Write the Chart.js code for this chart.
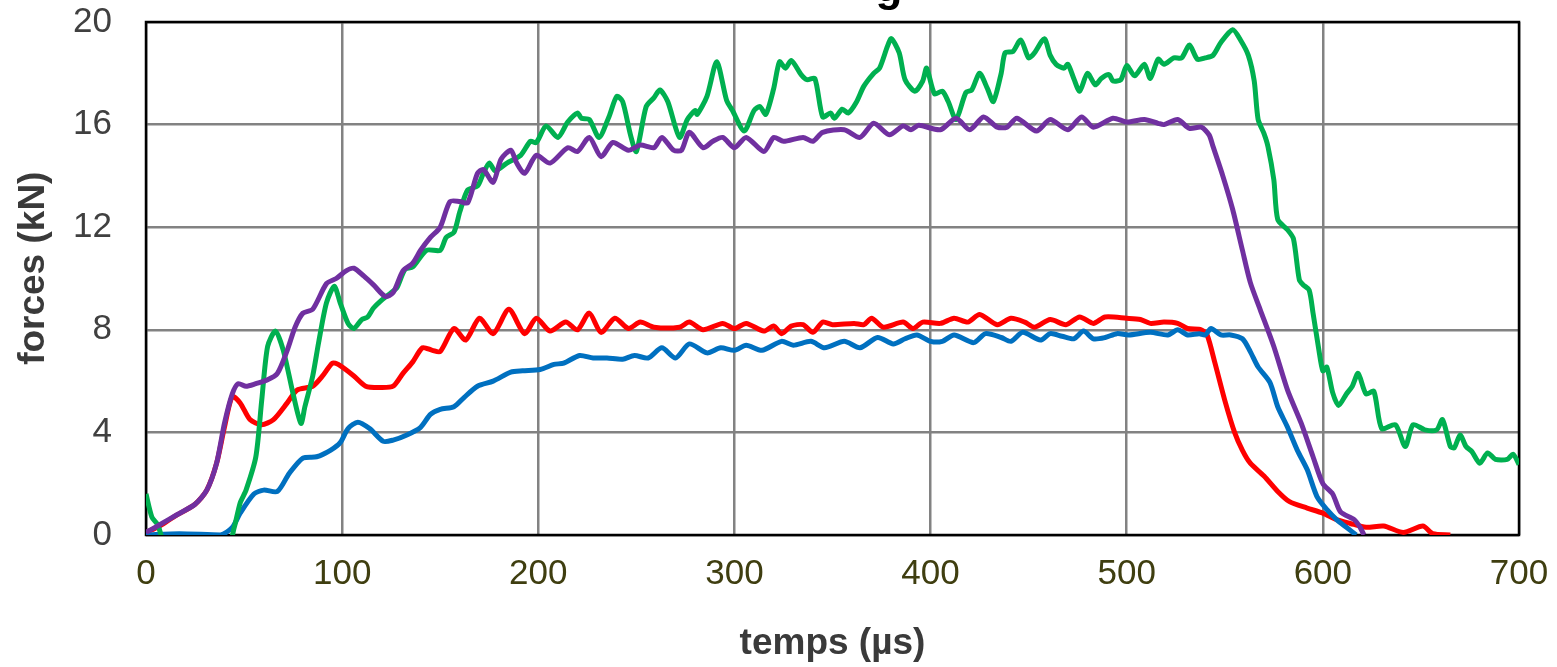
<!DOCTYPE html>
<html>
<head>
<meta charset="utf-8">
<script src="https://cdn.jsdelivr.net/npm/chart.js@4"></script>
<style>
  body { margin: 0; background: #fff; }
</style>
</head>
<body>
<canvas id="myChart" width="1557" height="667"></canvas>
<script>
// temps (µs) / forces (kN), one pair of arrays per curve
var redT = [0, 7, 14, 25, 31, 36, 40, 44, 48, 53, 59, 65, 72, 77, 85, 90, 95, 98, 106, 112, 119, 126, 131, 136, 141, 146, 150, 157, 163, 170, 177, 185, 193, 199, 206, 214, 220, 226, 232, 239, 246, 252, 259, 272, 277, 284, 294, 300, 306, 315, 320, 324, 329, 335, 340, 345, 350, 361, 366, 370, 376, 386, 391, 396, 405, 412, 419, 425, 434, 441, 448, 453, 461, 469, 476, 483, 489, 500, 507, 512, 519, 526, 531, 538, 541, 545, 550, 555, 559, 563, 570, 577, 583, 592, 600, 607, 614, 622, 631, 641, 651, 656, 665];
var redF = [0.1, 0.35, 0.7, 1.2, 1.75, 2.8, 4.2, 5.4, 5.15, 4.5, 4.3, 4.5, 5.15, 5.65, 5.8, 6.2, 6.7, 6.65, 6.2, 5.8, 5.75, 5.8, 6.3, 6.75, 7.3, 7.2, 7.15, 8.05, 7.6, 8.45, 7.85, 8.8, 7.85, 8.45, 7.95, 8.3, 8.0, 8.65, 7.9, 8.45, 8.05, 8.3, 8.1, 8.1, 8.3, 8.0, 8.25, 8.05, 8.25, 7.95, 8.15, 7.85, 8.15, 8.2, 7.9, 8.3, 8.2, 8.25, 8.2, 8.45, 8.1, 8.3, 8.05, 8.3, 8.25, 8.45, 8.3, 8.6, 8.2, 8.45, 8.3, 8.1, 8.4, 8.2, 8.5, 8.25, 8.5, 8.45, 8.4, 8.25, 8.3, 8.25, 8.05, 8.0, 7.8, 6.7, 5.25, 4.0, 3.3, 2.8, 2.3, 1.7, 1.3, 1.05, 0.85, 0.6, 0.45, 0.3, 0.35, 0.1, 0.35, 0.05, 0];

var blueT = [0, 17, 38, 44, 48, 55, 60, 67, 73, 80, 87, 94, 99, 103, 108, 114, 121, 126, 133, 140, 145, 150, 157, 162, 169, 177, 186, 192, 201, 208, 213, 221, 228, 235, 243, 249, 256, 263, 270, 277, 286, 293, 300, 306, 314, 324, 330, 339, 346, 356, 364, 373, 381, 387, 393, 400, 406, 412, 422, 428, 436, 441, 447, 456, 461, 467, 473, 478, 483, 489, 495, 501, 512, 521, 526, 531, 537, 540, 543, 548, 553, 559, 563, 567, 573, 577, 582, 587, 592, 597, 602, 607, 612, 617];
var blueF = [0, 0.05, 0, 0.3, 0.85, 1.6, 1.75, 1.7, 2.4, 3.0, 3.05, 3.3, 3.6, 4.15, 4.4, 4.15, 3.65, 3.7, 3.9, 4.2, 4.7, 4.9, 5.0, 5.35, 5.8, 6.0, 6.35, 6.4, 6.45, 6.65, 6.7, 7.0, 6.9, 6.9, 6.85, 7.0, 6.9, 7.3, 6.9, 7.45, 7.1, 7.3, 7.2, 7.4, 7.2, 7.55, 7.4, 7.55, 7.3, 7.55, 7.3, 7.7, 7.45, 7.65, 7.8, 7.55, 7.55, 7.8, 7.5, 7.85, 7.7, 7.55, 7.9, 7.6, 7.85, 7.75, 7.65, 7.95, 7.65, 7.7, 7.85, 7.8, 7.9, 7.8, 8.0, 7.8, 7.85, 7.8, 8.05, 7.8, 7.8, 7.65, 7.15, 6.55, 5.95, 5.0, 4.2, 3.3, 2.55, 1.5, 1.0, 0.6, 0.3, 0];

var purpleT = [0, 7, 16, 25, 31, 36, 40, 44, 47, 51, 56, 62, 67, 72, 76, 80, 85, 92, 97, 102, 106, 111, 116, 122, 126, 131, 136, 140, 145, 150, 155, 160, 164, 169, 172, 177, 181, 186, 189, 193, 199, 206, 215, 220, 226, 232, 238, 246, 252, 259, 263, 269, 273, 277, 284, 289, 294, 300, 306, 315, 320, 325, 335, 340, 345, 356, 364, 371, 379, 386, 390, 394, 405, 413, 420, 427, 434, 439, 444, 454, 461, 470, 477, 483, 493, 500, 509, 516, 519, 526, 532, 538, 542, 544, 549, 554, 559, 563, 568, 575, 582, 589, 595, 600, 605, 609, 616, 619, 621];
var purpleF = [0.1, 0.4, 0.8, 1.2, 1.75, 2.8, 4.35, 5.5, 5.9, 5.8, 5.9, 6.05, 6.3, 7.2, 8.1, 8.65, 8.8, 9.8, 10.0, 10.3, 10.4, 10.1, 9.75, 9.3, 9.45, 10.3, 10.6, 11.1, 11.6, 12.0, 13.0, 13.0, 12.95, 14.1, 14.25, 13.75, 14.65, 15.0, 14.5, 14.1, 14.8, 14.5, 15.1, 14.95, 15.5, 14.75, 15.3, 15.0, 15.2, 15.1, 15.5, 15.0, 15.0, 15.7, 15.1, 15.35, 15.5, 15.1, 15.5, 14.95, 15.5, 15.35, 15.5, 15.35, 15.7, 15.8, 15.5, 16.05, 15.6, 15.95, 15.8, 15.97, 15.8, 16.25, 15.8, 16.3, 15.9, 15.9, 16.25, 15.75, 16.2, 15.8, 16.3, 15.9, 16.25, 16.1, 16.2, 16.05, 16.0, 16.2, 15.85, 15.9, 15.6, 15.15, 14.0, 12.7, 11.1, 9.85, 8.8, 7.35, 5.65, 4.35, 3.05, 2.0, 1.6, 0.9, 0.6, 0.3, 0];

var greenT = [0, 3, 6, 10, 42, 45, 48, 51, 56, 59, 62, 66, 70, 75, 79, 81, 85, 88, 92, 96, 99, 103, 106, 110, 113, 116, 120, 125, 128, 132, 136, 143, 150, 153, 157, 160, 164, 169, 172, 175, 178, 184, 191, 196, 199, 204, 210, 215, 220, 222, 226, 231, 236, 240, 243, 247, 250, 255, 259, 262, 266, 272, 276, 280, 281, 286, 291, 296, 299, 305, 310, 313, 316, 320, 323, 326, 329, 334, 337, 341, 345, 349, 351, 355, 358, 362, 366, 371, 374, 378, 380, 384, 387, 392, 396, 398, 402, 406, 409, 413, 418, 421, 425, 429, 432, 436, 438, 442, 446, 450, 453, 458, 461, 464, 468, 470, 473, 476, 480, 484, 487, 491, 493, 497, 500, 504, 509, 512, 516, 519, 524, 528, 532, 536, 540, 544, 548, 554, 558, 562, 565, 567, 570, 572, 575, 577, 582, 585, 588, 590, 593, 595, 598, 600, 602, 605, 608, 612, 615, 618, 622, 626, 630, 637, 642, 646, 652, 658, 661, 665, 667, 670, 673, 676, 680, 684, 688, 694, 697, 700];
var greenF = [1.6, 0.7, 0.4, -0.3, -0.3, 0.3, 1.25, 1.75, 3.05, 5.25, 7.35, 7.95, 7.2, 5.5, 4.35, 5.0, 6.2, 7.5, 9.05, 9.7, 9.05, 8.25, 8.05, 8.4, 8.5, 8.85, 9.15, 9.45, 9.65, 10.35, 10.45, 11.1, 11.1, 11.6, 11.8, 12.6, 13.45, 13.6, 14.1, 14.5, 14.2, 14.5, 14.8, 15.35, 15.3, 15.95, 15.5, 16.1, 16.45, 16.25, 16.2, 15.5, 16.3, 17.1, 16.9, 15.6, 14.95, 16.7, 17.05, 17.35, 16.9, 15.5, 16.2, 16.55, 16.4, 17.1, 18.45, 16.95, 16.55, 15.75, 16.55, 16.7, 16.4, 17.4, 18.45, 18.2, 18.5, 17.95, 17.75, 17.8, 16.3, 16.45, 16.25, 16.6, 16.45, 16.85, 17.5, 18.0, 18.2, 19.05, 19.35, 18.8, 17.75, 17.3, 17.7, 18.2, 17.2, 17.3, 16.9, 16.2, 17.25, 17.35, 18.0, 17.4, 16.9, 18.0, 18.8, 18.85, 19.3, 18.6, 18.8, 19.35, 18.7, 18.35, 18.2, 18.35, 17.8, 17.3, 18.0, 17.55, 17.8, 17.95, 17.7, 17.75, 18.3, 17.9, 18.35, 17.8, 18.55, 18.35, 18.6, 18.6, 19.1, 18.55, 18.6, 18.7, 19.2, 19.7, 19.3, 18.7, 17.7, 16.2, 15.65, 15.15, 13.85, 12.3, 11.9, 11.55, 9.95, 9.75, 9.55, 8.65, 7.2, 6.4, 6.55, 5.55, 5.05, 5.5, 5.8, 6.3, 5.5, 5.6, 4.15, 4.3, 3.45, 4.3, 4.1, 4.1, 4.5, 3.45, 3.4, 3.9, 3.45, 3.25, 2.8, 3.2, 2.95, 2.95, 3.15, 2.75];

var xTicks = [0, 100, 200, 300, 400, 500, 600, 700];
var yTicks = [0, 4, 8, 12, 16, 20];

function toPoints(t, f) {
    var pts = [];
    for (var i = 0; i < t.length; i++) {
        pts.push({x: t[i], y: f[i]});
    }
    return pts;
}

// black frame round the plot + the bit of the title that shows at the top
var framePlugin = {
    id: 'frame',
    beforeDatasetsDraw: function(chart) {
        var a = chart.chartArea;
        var c = chart.ctx;
        c.save();
        c.strokeStyle = '#000';
        c.lineWidth = 2.5;
        c.strokeRect(a.left, a.top, a.right - a.left, a.bottom - a.top);
        c.restore();
    },
    afterDraw: function(chart) {
        var c = chart.ctx;
        c.save();
        c.fillStyle = '#000';
        c.font = 'bold 44px "Liberation Sans", Arial, sans-serif';
        c.textAlign = 'center';
        c.textBaseline = 'alphabetic';
        c.fillText('g', 889, 1);
        c.restore();
    }
};

var ctx = document.getElementById('myChart').getContext('2d');
var myChart = new Chart(ctx, {
    type: 'line',
    data: {
        datasets: [{
            label: 'purple',
            data: toPoints(purpleT, purpleF),
            borderColor: '#7030A0',
            order: 1
        }, {
            label: 'green',
            data: toPoints(greenT, greenF),
            borderColor: '#00B050',
            order: 2
        }, {
            label: 'blue',
            data: toPoints(blueT, blueF),
            borderColor: '#0070C0',
            order: 3
        }, {
            label: 'red',
            data: toPoints(redT, redF),
            borderColor: '#FF0000',
            order: 4
        }]
    },
    options: {
        responsive: false,
        animation: false,
        layout: {
            padding: {top: 22, right: 38, left: 0, bottom: 0}
        },
        elements: {
            line: {borderWidth: 5, tension: 0.25, fill: false},
            point: {radius: 0, hoverRadius: 0}
        },
        plugins: {
            legend: {display: false},
            tooltip: {enabled: false}
        },
        scales: {
            x: {
                type: 'linear',
                min: 0,
                max: 700,
                afterBuildTicks: function(scale) {
                    scale.ticks = xTicks.map(function(v) { return {value: v}; });
                },
                afterFit: function(scale) { scale.height = 132; },
                // invisible tick marks give the gap between plot and labels
                grid: {color: '#828282', lineWidth: 2.5, drawTicks: true, tickLength: 18, tickColor: 'rgba(0,0,0,0)'},
                border: {display: false},
                ticks: {
                    padding: 0,
                    color: '#3f3e10',
                    font: {family: '"Liberation Sans", Arial, sans-serif', size: 35}
                },
                title: {
                    display: true,
                    text: 'temps (µs)',
                    color: '#3a3a3a',
                    padding: {top: 0, bottom: 1},
                    font: {family: '"Liberation Sans", Arial, sans-serif', size: 37, weight: 'bold'}
                }
            },
            y: {
                min: 0,
                max: 20,
                afterBuildTicks: function(scale) {
                    scale.ticks = yTicks.map(function(v) { return {value: v}; });
                },
                afterFit: function(scale) { scale.width = 146; },
                grid: {color: '#828282', lineWidth: 2.5, drawTicks: true, tickLength: 34, tickColor: 'rgba(0,0,0,0)'},
                border: {display: false},
                ticks: {
                    padding: 0,
                    color: '#404040',
                    font: {family: '"Liberation Sans", Arial, sans-serif', size: 35}
                },
                title: {
                    display: true,
                    text: '  forces (kN)',
                    color: '#3a3a3a',
                    padding: {top: 12, bottom: 0},
                    font: {family: '"Liberation Sans", Arial, sans-serif', size: 37, weight: 'bold'}
                }
            }
        }
    },
    plugins: [framePlugin]
});
</script>
</body>
</html>
